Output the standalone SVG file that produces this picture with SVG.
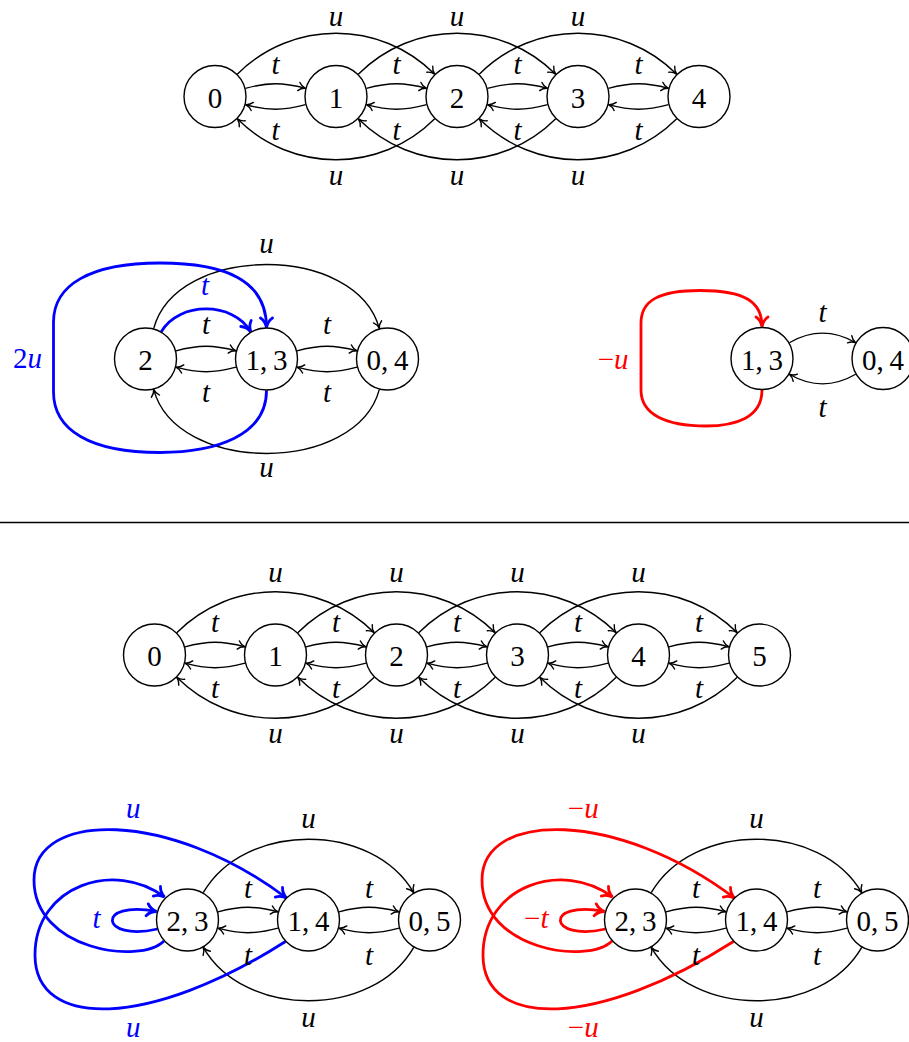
<svg xmlns="http://www.w3.org/2000/svg" width="909" height="1042" viewBox="0 0 909 1042">
<style>
.nd{fill:#fff;stroke:#000;stroke-width:1.4}
text{font-family:'Liberation Serif','Times New Roman','DejaVu Serif',serif}
.nt{font-size:29px;text-anchor:middle;fill:#000}
.lb{font-style:italic;font-size:29px;text-anchor:middle;fill:#000}
.up{font-style:normal}
.e{fill:none;stroke:#000;stroke-width:1.4;marker-end:url(#ah)}
.eb{fill:none;stroke:#00f;stroke-width:2.8;marker-end:url(#ahb)}
.er{fill:none;stroke:#f00;stroke-width:2.8;marker-end:url(#ahr)}
.blue{fill:#00f}
.red{fill:#f00}
</style>
<defs>
<marker id="ah" viewBox="-9 -6 10 12" refX="0" refY="0" markerWidth="10" markerHeight="12" orient="auto" markerUnits="userSpaceOnUse">
<path d="M -7,-4.2 C -5,-1.6 -2,-0.4 0,0 C -2,0.4 -5,1.6 -7,4.2" fill="none" stroke="#000" stroke-width="1.4" stroke-linecap="round"/>
</marker>
<marker id="ahb" viewBox="-12 -8 13 16" refX="0" refY="0" markerWidth="13" markerHeight="16" orient="auto" markerUnits="userSpaceOnUse">
<path d="M -9.5,-6 C -7,-2.3 -3,-0.6 0,0 C -3,0.6 -7,2.3 -9.5,6" fill="none" stroke="#00f" stroke-width="2.8" stroke-linecap="round"/>
</marker>
<marker id="ahr" viewBox="-12 -8 13 16" refX="0" refY="0" markerWidth="13" markerHeight="16" orient="auto" markerUnits="userSpaceOnUse">
<path d="M -9.5,-6 C -7,-2.3 -3,-0.6 0,0 C -3,0.6 -7,2.3 -9.5,6" fill="none" stroke="#f00" stroke-width="2.8" stroke-linecap="round"/>
</marker>
</defs>

<!-- chain 0..4 -->
<g id="chain5-edges">
<path class="e" d="M 245.43 88.35 C 268.17 82.26 282.83 82.26 305.57 88.35"/>
<path class="e" d="M 366.43 88.35 C 389.17 82.26 403.83 82.26 426.57 88.35"/>
<path class="e" d="M 487.43 88.35 C 510.17 82.26 524.83 82.26 547.57 88.35"/>
<path class="e" d="M 608.43 88.35 C 631.17 82.26 645.83 82.26 668.57 88.35"/>
<path class="e" d="M 305.57 104.65 C 282.83 110.74 268.17 110.74 245.43 104.65"/>
<path class="e" d="M 426.57 104.65 C 403.83 110.74 389.17 110.74 366.43 104.65"/>
<path class="e" d="M 547.57 104.65 C 524.83 110.74 510.17 110.74 487.43 104.65"/>
<path class="e" d="M 668.57 104.65 C 645.83 110.74 631.17 110.74 608.43 104.65"/>
<path class="e" d="M 237.27 74.23 C 291.93 19.57 380.07 19.57 434.73 74.23"/>
<path class="e" d="M 358.27 74.23 C 412.93 19.57 501.07 19.57 555.73 74.23"/>
<path class="e" d="M 479.27 74.23 C 533.93 19.57 622.07 19.57 676.73 74.23"/>
<path class="e" d="M 434.73 118.77 C 380.07 173.43 291.93 173.43 237.27 118.77"/>
<path class="e" d="M 555.73 118.77 C 501.07 173.43 412.93 173.43 358.27 118.77"/>
<path class="e" d="M 676.73 118.77 C 622.07 173.43 533.93 173.43 479.27 118.77"/>
<text class="lb" x="275.5" y="73.5">t</text>
<text class="lb" x="396.5" y="73.5">t</text>
<text class="lb" x="517.5" y="73.5">t</text>
<text class="lb" x="638.5" y="73.5">t</text>
<text class="lb" x="275.5" y="139.5">t</text>
<text class="lb" x="396.5" y="139.5">t</text>
<text class="lb" x="517.5" y="139.5">t</text>
<text class="lb" x="638.5" y="139.5">t</text>
<text class="lb" x="336" y="26">u</text>
<text class="lb" x="457" y="26">u</text>
<text class="lb" x="578" y="26">u</text>
<text class="lb" x="336" y="184.5">u</text>
<text class="lb" x="457" y="184.5">u</text>
<text class="lb" x="578" y="184.5">u</text>
</g>
<g id="a0"><circle class="nd" cx="215" cy="96.5" r="31"/><text class="nt" x="215" y="107.5">0</text></g>
<g id="a1"><circle class="nd" cx="336" cy="96.5" r="31"/><text class="nt" x="336" y="107.5">1</text></g>
<g id="a2"><circle class="nd" cx="457" cy="96.5" r="31"/><text class="nt" x="457" y="107.5">2</text></g>
<g id="a3"><circle class="nd" cx="578" cy="96.5" r="31"/><text class="nt" x="578" y="107.5">3</text></g>
<g id="a4"><circle class="nd" cx="699" cy="96.5" r="31"/><text class="nt" x="699" y="107.5">4</text></g>

<!-- quotient with 2u -->
<g id="q1-edges">
<path class="e" d="M 175.93 350.85 C 198.67 344.76 213.33 344.76 236.07 350.85"/>
<path class="e" d="M 296.93 350.85 C 319.67 344.76 334.33 344.76 357.07 350.85"/>
<path class="e" d="M 236.07 367.15 C 213.33 373.24 198.67 373.24 175.93 367.15"/>
<path class="e" d="M 357.07 367.15 C 334.33 373.24 319.67 373.24 296.93 367.15"/>
<path class="e" d="M 153.65 328.57 C 176.52 243.22 356.48 243.22 379.35 328.57"/>
<path class="e" d="M 379.35 389.43 C 356.48 474.78 176.52 474.78 153.65 389.43"/>
<path class="eb" d="M 161.25 331.72 C 178.77 301.37 233.23 301.37 250.75 331.72"/>
<path class="eb" d="M 266.5 390.5 C 266.5 436 215 452.5 160 452.5 C 90 452.5 53.5 430 53.5 392 L 53.5 322 C 53.5 285 90 263 160 263 C 225 263 266.5 280 266.5 327.5"/>
<text class="lb" x="206" y="333.5">t</text>
<text class="lb" x="327" y="333.5">t</text>
<text class="lb" x="206" y="401.5">t</text>
<text class="lb" x="327" y="401.5">t</text>
<text class="lb" x="266.5" y="253.3">u</text>
<text class="lb" x="266.5" y="476.7">u</text>
<text class="lb blue" x="205" y="295">t</text>
<text class="lb blue" x="42" y="368.3" style="text-anchor:end"><tspan class="up">2</tspan>u</text>
</g>
<g id="b2"><circle class="nd" cx="145.5" cy="359" r="31"/><text class="nt" x="145.5" y="370">2</text></g>
<g id="b13"><circle class="nd" cx="266.5" cy="359" r="31"/><text class="nt" x="266.5" y="370">1,&#8201;3</text></g>
<g id="b04"><circle class="nd" cx="387.5" cy="359" r="31"/><text class="nt" x="387.5" y="370">0,&#8201;4</text></g>

<!-- quotient with -u -->
<g id="q2-edges">
<path class="e" d="M 789.28 342.75 C 811.81 329.75 833.19 329.75 855.72 342.75"/>
<path class="e" d="M 855.72 374.25 C 833.19 387.25 811.81 387.25 789.28 374.25"/>
<path class="er" d="M 762 390 C 762 418 735 426 706 426 C 665 426 641 414 641 390 L 641 323 C 641 300 660 290.5 700 290.5 C 745 290.5 762 302 762 326.5"/>
<text class="lb" x="822.5" y="321.7">t</text>
<text class="lb" x="822.5" y="416.7">t</text>
<text class="lb red" x="628.5" y="369" style="text-anchor:end"><tspan class="up">&#8722;</tspan>u</text>
</g>
<g id="c13"><circle class="nd" cx="762" cy="358.5" r="31"/><text class="nt" x="762" y="369.5">1,&#8201;3</text></g>
<g id="c04"><circle class="nd" cx="883" cy="358.5" r="31"/><text class="nt" x="883" y="369.5">0,&#8201;4</text></g>

<!-- separator -->
<line x1="0" y1="522.5" x2="909" y2="522.5" stroke="#000" stroke-width="1.3"/>

<!-- chain 0..5 -->
<g id="chain6-edges">
<path class="e" d="M 184.93 646.85 C 207.67 640.76 222.33 640.76 245.07 646.85"/>
<path class="e" d="M 305.93 646.85 C 328.67 640.76 343.33 640.76 366.07 646.85"/>
<path class="e" d="M 426.93 646.85 C 449.67 640.76 464.33 640.76 487.07 646.85"/>
<path class="e" d="M 547.93 646.85 C 570.67 640.76 585.33 640.76 608.07 646.85"/>
<path class="e" d="M 668.93 646.85 C 691.67 640.76 706.33 640.76 729.07 646.85"/>
<path class="e" d="M 245.07 663.15 C 222.33 669.24 207.67 669.24 184.93 663.15"/>
<path class="e" d="M 366.07 663.15 C 343.33 669.24 328.67 669.24 305.93 663.15"/>
<path class="e" d="M 487.07 663.15 C 464.33 669.24 449.67 669.24 426.93 663.15"/>
<path class="e" d="M 608.07 663.15 C 585.33 669.24 570.67 669.24 547.93 663.15"/>
<path class="e" d="M 729.07 663.15 C 706.33 669.24 691.67 669.24 668.93 663.15"/>
<path class="e" d="M 176.77 632.73 C 231.43 578.07 319.57 578.07 374.23 632.73"/>
<path class="e" d="M 297.77 632.73 C 352.43 578.07 440.57 578.07 495.23 632.73"/>
<path class="e" d="M 418.77 632.73 C 473.43 578.07 561.57 578.07 616.23 632.73"/>
<path class="e" d="M 539.77 632.73 C 594.43 578.07 682.57 578.07 737.23 632.73"/>
<path class="e" d="M 374.23 677.27 C 319.57 731.93 231.43 731.93 176.77 677.27"/>
<path class="e" d="M 495.23 677.27 C 440.57 731.93 352.43 731.93 297.77 677.27"/>
<path class="e" d="M 616.23 677.27 C 561.57 731.93 473.43 731.93 418.77 677.27"/>
<path class="e" d="M 737.23 677.27 C 682.57 731.93 594.43 731.93 539.77 677.27"/>
<text class="lb" x="215" y="632">t</text>
<text class="lb" x="336" y="632">t</text>
<text class="lb" x="457" y="632">t</text>
<text class="lb" x="578" y="632">t</text>
<text class="lb" x="699" y="632">t</text>
<text class="lb" x="215" y="698">t</text>
<text class="lb" x="336" y="698">t</text>
<text class="lb" x="457" y="698">t</text>
<text class="lb" x="578" y="698">t</text>
<text class="lb" x="699" y="698">t</text>
<text class="lb" x="275.5" y="581.8">u</text>
<text class="lb" x="396.5" y="581.8">u</text>
<text class="lb" x="517.5" y="581.8">u</text>
<text class="lb" x="638.5" y="581.8">u</text>
<text class="lb" x="275.5" y="742.5">u</text>
<text class="lb" x="396.5" y="742.5">u</text>
<text class="lb" x="517.5" y="742.5">u</text>
<text class="lb" x="638.5" y="742.5">u</text>
</g>
<g id="d0"><circle class="nd" cx="154.5" cy="655" r="31"/><text class="nt" x="154.5" y="666">0</text></g>
<g id="d1"><circle class="nd" cx="275.5" cy="655" r="31"/><text class="nt" x="275.5" y="666">1</text></g>
<g id="d2"><circle class="nd" cx="396.5" cy="655" r="31"/><text class="nt" x="396.5" y="666">2</text></g>
<g id="d3"><circle class="nd" cx="517.5" cy="655" r="31"/><text class="nt" x="517.5" y="666">3</text></g>
<g id="d4"><circle class="nd" cx="638.5" cy="655" r="31"/><text class="nt" x="638.5" y="666">4</text></g>
<g id="d5"><circle class="nd" cx="759.5" cy="655" r="31"/><text class="nt" x="759.5" y="666">5</text></g>

<!-- quotient with blue u, t -->
<g id="q3-edges">
<path class="e" d="M 217.93 911.85 C 240.67 905.76 255.33 905.76 278.07 911.85"/>
<path class="e" d="M 338.93 911.85 C 361.67 905.76 376.33 905.76 399.07 911.85"/>
<path class="e" d="M 278.07 928.15 C 255.33 934.24 240.67 934.24 217.93 928.15"/>
<path class="e" d="M 399.07 928.15 C 376.33 934.24 361.67 934.24 338.93 928.15"/>
<path class="e" d="M 203.25 892.72 C 244.45 821.35 372.55 821.35 413.75 892.72"/>
<path class="e" d="M 413.75 947.28 C 372.55 1018.65 244.45 1018.65 203.25 947.28"/>
<path class="eb" d="M 157.5 929 C 100 942 95 900 156.5 911.5"/>
<path class="eb" d="M 164 941 C 140 965 34 950 34 880 C 34 810 170 810 286.5 898"/>
<path class="eb" d="M 285.5 941.5 C 150 1028 35 1030 35 955 C 35 885 115 860 164.5 897"/>
<text class="lb" x="248" y="898.3">t</text>
<text class="lb" x="369" y="898.3">t</text>
<text class="lb" x="248" y="965">t</text>
<text class="lb" x="369" y="965">t</text>
<text class="lb" x="308.5" y="828.3">u</text>
<text class="lb" x="308.5" y="1026.7">u</text>
<text class="lb blue" x="133.3" y="818.3">u</text>
<text class="lb blue" x="133.3" y="1036.7">u</text>
<text class="lb blue" x="100.5" y="928.3" style="text-anchor:end">t</text>
</g>
<g id="e23"><circle class="nd" cx="187.5" cy="920" r="31"/><text class="nt" x="187.5" y="931">2,&#8201;3</text></g>
<g id="e14"><circle class="nd" cx="308.5" cy="920" r="31"/><text class="nt" x="308.5" y="931">1,&#8201;4</text></g>
<g id="e05"><circle class="nd" cx="429.5" cy="920" r="31"/><text class="nt" x="429.5" y="931">0,&#8201;5</text></g>

<!-- quotient with red -u, -t -->
<g id="q4-edges">
<path class="e" d="M 665.93 911.85 C 688.67 905.76 703.33 905.76 726.07 911.85"/>
<path class="e" d="M 786.93 911.85 C 809.67 905.76 824.33 905.76 847.07 911.85"/>
<path class="e" d="M 726.07 928.15 C 703.33 934.24 688.67 934.24 665.93 928.15"/>
<path class="e" d="M 847.07 928.15 C 824.33 934.24 809.67 934.24 786.93 928.15"/>
<path class="e" d="M 651.25 892.72 C 692.45 821.35 820.55 821.35 861.75 892.72"/>
<path class="e" d="M 861.75 947.28 C 820.55 1018.65 692.45 1018.65 651.25 947.28"/>
<path class="er" d="M 605.5 929 C 548 942 543 900 604.5 911.5"/>
<path class="er" d="M 612 941 C 588 965 482 950 482 880 C 482 810 618 810 734.5 898"/>
<path class="er" d="M 733.5 941.5 C 598 1028 483 1030 483 955 C 483 885 563 860 612.5 897"/>
<text class="lb" x="696" y="898.3">t</text>
<text class="lb" x="817" y="898.3">t</text>
<text class="lb" x="696" y="965">t</text>
<text class="lb" x="817" y="965">t</text>
<text class="lb" x="756.5" y="828.3">u</text>
<text class="lb" x="756.5" y="1026.7">u</text>
<text class="lb red" x="583.3" y="818.3"><tspan class="up">&#8722;</tspan>u</text>
<text class="lb red" x="583.3" y="1036.7"><tspan class="up">&#8722;</tspan>u</text>
<text class="lb red" x="548.5" y="928.3" style="text-anchor:end"><tspan class="up">&#8722;</tspan>t</text>
</g>
<g id="f23"><circle class="nd" cx="635.5" cy="920" r="31"/><text class="nt" x="635.5" y="931">2,&#8201;3</text></g>
<g id="f14"><circle class="nd" cx="756.5" cy="920" r="31"/><text class="nt" x="756.5" y="931">1,&#8201;4</text></g>
<g id="f05"><circle class="nd" cx="877.5" cy="920" r="31"/><text class="nt" x="877.5" y="931">0,&#8201;5</text></g>
</svg>
